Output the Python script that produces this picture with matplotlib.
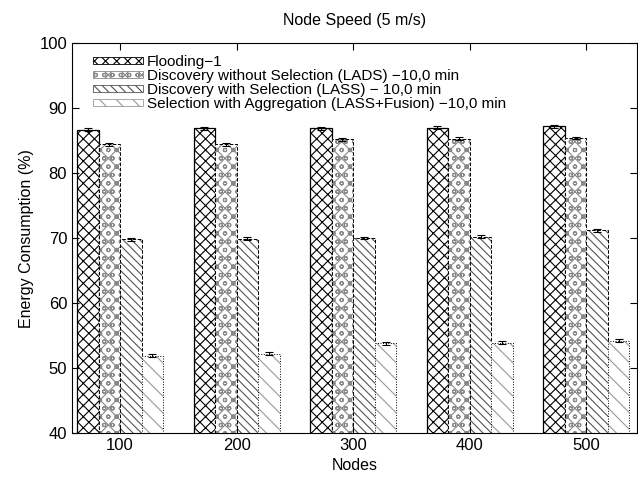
import numpy as np
import matplotlib.pyplot as plt

plt.rcParams['font.family'] = ['Liberation Sans', 'DejaVu Sans']
plt.rcParams['hatch.linewidth'] = 0.8

nodes = ['100', '200', '300', '400', '500']
series = ['Flooding\u22121',
          'Discovery without Selection (LADS) \u221210,0 min',
          'Discovery with Selection (LASS) \u2212 10,0 min',
          'Selection with Aggregation (LASS+Fusion) \u221210,0 min']
flooding = [86.7, 86.9, 86.9, 87.0, 87.2]
lads = [84.4, 84.4, 85.2, 85.3, 85.4]
lass = [69.8, 69.9, 70.0, 70.2, 71.2]
fusion = [51.9, 52.2, 53.8, 53.9, 54.2]
err = [0.2, 0.2, 0.2, 0.25]

values = [flooding, lads, lass, fusion]
hatches = ['xxx', 'xxoo', '\\\\\\\\', '\\\\']
hatch_colors = ['black', '#888888', '#555555', '#999999']
styles = ['-', '--', '--', ':']
widths = [0.9, 0.7, 0.7, 0.7]

fig, ax = plt.subplots(figsize=(6.38, 4.79), dpi=100)
fig.subplots_adjust(left=0.113, right=0.999, top=0.91, bottom=0.096)

x = np.arange(1, 6)
w = 0.185
for i, vals in enumerate(values):
    pos = x + (i - 1.5) * w
    # hatch fill first, then the outline on top
    ax.bar(pos, vals, w, color='white', edgecolor=hatch_colors[i],
           hatch=hatches[i], linewidth=0)
    ax.bar(pos, vals, w, color='none', edgecolor='black',
           linestyle=styles[i], linewidth=widths[i])
    ax.errorbar(pos, vals, yerr=err[i], fmt='none', ecolor='black',
                elinewidth=0.8, capsize=3, capthick=0.8)
    # legend proxy
    ax.bar([0], [0], color='white', edgecolor=hatch_colors[i],
           hatch=hatches[i], linewidth=0.6, label=series[i])

ax.set_xlim(0.588, 5.438)
ax.set_ylim(40, 100)
ax.set_xticks(x)
ax.set_xticklabels(nodes)
ax.set_yticks(range(40, 101, 10))
ax.tick_params(direction='in', top=True, right=True, labelsize=12, length=5)
ax.set_xlabel('Nodes', fontsize=11.5)
ax.set_ylabel('Energy Consumption (%)', fontsize=11.5)
ax.set_title('Node Speed (5 m/s)', fontsize=11.5, pad=13)

ax.legend(loc='upper left', frameon=False, fontsize=11, handlelength=3.3,
          handleheight=0.3, labelspacing=0.0, handletextpad=0.25,
          borderaxespad=0.0, bbox_to_anchor=(0.026, 0.985))

plt.savefig('out.png', dpi=100)
